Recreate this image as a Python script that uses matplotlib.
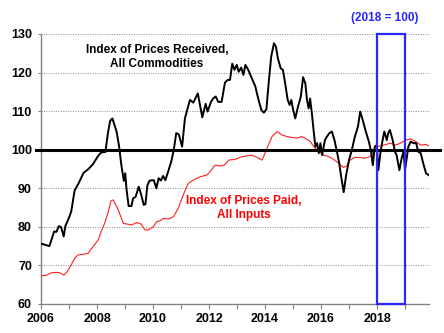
import matplotlib
matplotlib.use("Agg")
import matplotlib.pyplot as plt
from matplotlib.patches import Rectangle
from matplotlib.ticker import MultipleLocator

plt.rcParams['font.family'] = ['Liberation Sans', 'DejaVu Sans']

# Index of Prices Received, All Commodities (2018 = 100)
recv_t = [2006.00, 2006.08, 2006.30, 2006.47, 2006.55, 2006.64, 2006.72, 2006.81, 2006.87, 2006.99,
          2007.08, 2007.20, 2007.35, 2007.52, 2007.68, 2007.86, 2008.04, 2008.15, 2008.30, 2008.39,
          2008.47, 2008.55, 2008.70, 2008.79, 2008.87, 2008.96, 2009.01, 2009.05, 2009.13, 2009.23,
          2009.29, 2009.38, 2009.49, 2009.58, 2009.67, 2009.73, 2009.80, 2009.88, 2010.03, 2010.12,
          2010.20, 2010.28, 2010.36, 2010.44, 2010.54, 2010.65, 2010.74, 2010.83, 2010.92, 2011.04,
          2011.14, 2011.22, 2011.32, 2011.44, 2011.60, 2011.76, 2011.88, 2011.95, 2012.07, 2012.15,
          2012.24, 2012.33, 2012.45, 2012.57, 2012.67, 2012.75, 2012.83, 2012.91, 2012.99, 2013.06,
          2013.15, 2013.23, 2013.30, 2013.40, 2013.65, 2013.77, 2013.87, 2013.96, 2014.05, 2014.13,
          2014.22, 2014.32, 2014.39, 2014.46, 2014.56, 2014.64, 2014.72, 2014.81, 2014.88, 2014.94,
          2015.00, 2015.08, 2015.18, 2015.28, 2015.36, 2015.44, 2015.50, 2015.56, 2015.61, 2015.68,
          2015.74, 2015.80, 2015.86, 2015.92, 2015.98, 2016.04, 2016.14, 2016.21, 2016.30, 2016.39,
          2016.48, 2016.57, 2016.65, 2016.72, 2016.81, 2016.90, 2017.00, 2017.10, 2017.21, 2017.32,
          2017.40, 2017.49, 2017.60, 2017.71, 2017.79, 2017.85, 2017.92, 2017.99, 2018.05, 2018.12,
          2018.19, 2018.26, 2018.35, 2018.40, 2018.46, 2018.56, 2018.64, 2018.70, 2018.80, 2018.88,
          2018.95, 2019.00, 2019.06, 2019.12, 2019.20, 2019.30, 2019.40, 2019.47, 2019.56, 2019.65,
          2019.75, 2019.85]
recv_v = [75.6, 75.5, 75.0, 78.8, 78.7, 80.2, 79.9, 77.5, 80.2, 82.2,
          84.0, 89.4, 91.4, 94.0, 94.9, 96.3, 98.4, 99.3, 99.4, 104.3,
          107.5, 108.1, 104.7, 100.8, 96.0, 91.9, 93.9, 90.0, 85.4, 85.4,
          87.4, 87.8, 90.4, 88.3, 85.7, 85.9, 90.8, 92.0, 92.1, 90.0,
          92.6, 92.0, 93.2, 92.1, 94.3, 96.9, 99.9, 104.3, 104.0, 100.8,
          108.1, 110.3, 112.9, 112.2, 114.6, 108.4, 111.9, 109.9, 112.4, 113.3,
          113.8, 112.4, 112.4, 117.4, 118.1, 118.1, 122.3, 120.7, 122.0, 120.2,
          121.3, 119.4, 122.0, 120.7, 116.5, 112.9, 110.3, 109.6, 110.5, 117.2,
          124.1, 127.6, 126.7, 123.7, 121.1, 120.7, 117.2, 112.9, 111.6, 112.9,
          110.5, 108.1, 111.2, 113.8, 118.8, 117.2, 112.9, 110.7, 113.3, 109.0,
          104.7, 100.8, 101.7, 99.1, 101.7, 98.6, 102.5, 103.4, 104.3, 104.7,
          102.5, 99.5, 96.5, 93.0, 89.0, 93.5, 97.3, 99.9, 103.4, 106.0,
          109.9, 107.7, 104.7, 102.1, 99.5, 96.0, 100.8, 101.2, 94.7, 99.1,
          102.1, 104.7, 102.5, 104.3, 105.1, 102.5, 99.5, 98.6, 94.7, 97.8,
          99.5, 94.7, 97.8, 100.8, 102.1, 101.7, 101.7, 99.5, 99.1, 96.5,
          93.9, 93.4]

# Index of Prices Paid, All Inputs (2018 = 100)
paid_t = [2006.00, 2006.18, 2006.37, 2006.55, 2006.67, 2006.82, 2006.94, 2007.06, 2007.20, 2007.32,
          2007.50, 2007.68, 2007.86, 2008.04, 2008.15, 2008.27, 2008.39, 2008.50, 2008.58, 2008.76,
          2008.94, 2009.10, 2009.24, 2009.42, 2009.58, 2009.71, 2009.83, 2010.01, 2010.13, 2010.25,
          2010.37, 2010.55, 2010.73, 2010.90, 2011.08, 2011.26, 2011.44, 2011.68, 2011.92, 2012.04,
          2012.21, 2012.40, 2012.55, 2012.70, 2012.93, 2013.18, 2013.36, 2013.54, 2013.77, 2013.89,
          2013.95, 2014.07, 2014.25, 2014.43, 2014.61, 2014.79, 2014.96, 2015.14, 2015.32, 2015.50,
          2015.62, 2015.74, 2015.92, 2016.10, 2016.27, 2016.45, 2016.63, 2016.80, 2016.92, 2017.04,
          2017.21, 2017.39, 2017.57, 2017.75, 2017.87, 2018.00, 2018.24, 2018.48, 2018.66, 2018.84,
          2019.02, 2019.20, 2019.38, 2019.56, 2019.75, 2019.83]
paid_v = [67.3, 67.4, 68.1, 68.2, 68.1, 67.5, 68.4, 69.9, 71.8, 72.7,
          72.9, 73.1, 74.9, 76.6, 78.8, 80.9, 83.5, 86.8, 87.0, 84.4,
          80.9, 80.7, 80.5, 81.1, 80.7, 79.2, 79.2, 80.0, 81.3, 81.6,
          82.2, 82.0, 82.6, 84.8, 88.3, 91.3, 92.1, 93.0, 93.4, 94.3,
          96.0, 95.8, 96.0, 97.3, 97.5, 98.2, 98.4, 98.6, 97.8, 97.3,
          98.2, 100.4, 103.4, 104.7, 103.8, 103.4, 103.2, 103.0, 103.4, 102.7,
          102.1, 100.8, 99.5, 98.6, 98.2, 97.5, 96.5, 95.4, 95.8, 97.3,
          98.0, 98.0, 97.8, 98.2, 99.5, 100.8, 101.2, 101.7, 101.2, 101.7,
          102.5, 102.8, 102.1, 101.2, 101.4, 101.0]

base_year = [2018, 2019]
yticks = [60, 70, 80, 90, 100, 110, 120, 130]
xticks = [2006, 2008, 2010, 2012, 2014, 2016, 2018]

fig = plt.figure(figsize=(4.44, 3.33), dpi=100)
ax = fig.add_axes([41/444, 1-304/333, 388/444, 270/333])

for y in yticks:
    if y not in (60, 100):
        ax.axhline(y, color='#888888', lw=0.7, ls=(0, (1, 1.5)), zorder=1)

ax.plot(paid_t, paid_v, color='#ff2020', lw=0.8, zorder=3)
ax.plot(recv_t, recv_v, color='black', lw=1.4, zorder=4)
ax.axhline(100, xmin=-0.013, xmax=1.028, color='black', lw=2.2, zorder=5, clip_on=False)

ax.add_patch(Rectangle((base_year[0], 60), base_year[1]-base_year[0], 70, fill=False,
                       edgecolor='#2828ff', lw=1.6, zorder=6, clip_on=False))

ax.set_xlim(2006, 2019.857)
ax.set_ylim(60, 130)
ax.set_xticks(xticks)
ax.xaxis.set_minor_locator(MultipleLocator(1))
ax.set_yticks(yticks)
for lab in ax.get_xticklabels() + ax.get_yticklabels():
    lab.set_fontweight('bold')
ax.tick_params(axis='x', which='both', direction='out', length=3.5, width=0.8,
               color='#808080', labelsize=9, pad=3)
ax.tick_params(axis='y', direction='out', length=2.5, width=0.7, color='#808080',
               labelsize=9, pad=4)
for s in ('top', 'right'):
    ax.spines[s].set_visible(False)
for s in ('left', 'bottom'):
    ax.spines[s].set_color('#808080')
    ax.spines[s].set_linewidth(1.0)

ax.text(2010.14, 124.1, 'Index of Prices Received,\nAll Commodities', ha='center', va='center',
        fontsize=8.5, fontweight='bold', color='black', linespacing=1.25)
ax.text(2013.25, 84.9, 'Index of Prices Paid,\nAll Inputs', ha='center', va='center',
        fontsize=8.5, fontweight='bold', color='#ff0000', linespacing=1.25)
ax.text(2018.29, 134.2, '(2018 = 100)', ha='center', va='center', fontsize=8.5,
        fontweight='bold', color='#2828ff', clip_on=False)

fig.savefig('out.png', dpi=100)
